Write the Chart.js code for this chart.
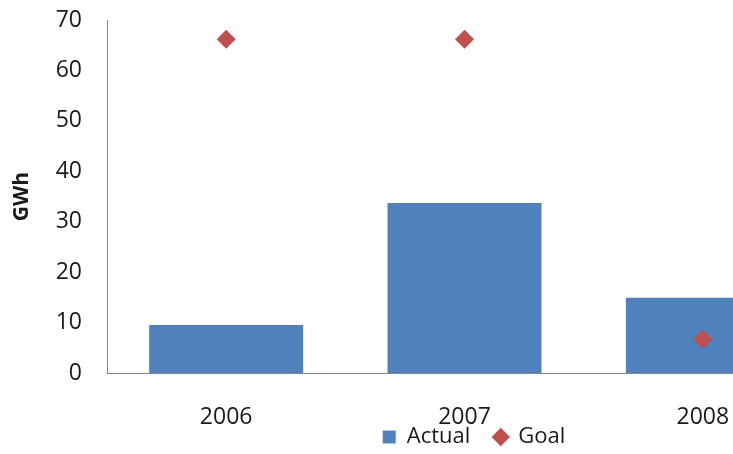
<!DOCTYPE html>
<html>
<head>
<meta charset="utf-8">
<script src="https://cdn.jsdelivr.net/npm/chart.js@4/dist/chart.umd.min.js"></script>
<style>
  html, body { margin: 0; padding: 0; background: #fff; }
  #frame { width: 733px; height: 454px; overflow: hidden; position: relative; }
  #box { width: 948px; height: 454px; position: absolute; left: 0; top: 0; }
</style>
</head>
<body>
<div id="frame"><div id="box"><canvas id="c"></canvas></div></div>
<script>
// Annual energy savings, GWh
const years = ['2006', '2007', '2008'];
const actual = [9.5, 33.7, 14.9];
const goal = [66.2, 66.2, 6.7];
const yTicks = [0, 10, 20, 30, 40, 50, 60, 70];

const textColor = '#1a1a1a';
const axisColor = '#868686';
const baseFont = "'Open Sans', 'Liberation Sans', sans-serif";

// The year labels sit below the axis band; let them draw past the band's lower edge.
const yearLabelRoom = {
  id: 'yearLabelRoom',
  afterLayout(chart) {
    chart.scales.x.bottom = chart.height;
  }
};

new Chart(document.getElementById('c'), {
  data: {
    labels: years,
    datasets: [
      {
        type: 'bar',
        label: 'Actual',
        data: actual,
        backgroundColor: '#4F81BD',
        borderWidth: 0,
        categoryPercentage: 1,
        barPercentage: 0.646,
        order: 1
      },
      {
        type: 'line',
        label: 'Goal',
        data: goal,
        showLine: false,
        pointStyle: 'rectRot',
        pointRadius: 9.5,
        pointHoverRadius: 9.5,
        pointBackgroundColor: '#C0504D',
        pointBorderColor: '#C0504D',
        pointBorderWidth: 0,
        backgroundColor: '#C0504D',
        borderColor: '#C0504D',
        order: 0
      }
    ]
  },
  plugins: [yearLabelRoom],
  options: {
    responsive: true,
    maintainAspectRatio: false,
    animation: false,
    layout: { padding: { top: 20, right: 0, left: 0, bottom: -4 } },
    plugins: {
      tooltip: { enabled: false },
      legend: {
        position: 'bottom',
        labels: {
          usePointStyle: true,
          boxWidth: 13,
          boxHeight: 13,
          padding: 24,
          color: textColor,
          font: { family: baseFont, size: 22 },
          sort: (a, b) => a.datasetIndex - b.datasetIndex,
          generateLabels: (chart) => {
            const items = Chart.defaults.plugins.legend.labels.generateLabels(chart);
            items.forEach(it => {
              it.pointStyle = it.datasetIndex === 0 ? 'rect' : 'rectRot';
              it.fillStyle = it.datasetIndex === 0 ? '#4F81BD' : '#C0504D';
              it.strokeStyle = it.fillStyle;
              it.lineWidth = 0;
            });
            return items;
          }
        }
      }
    },
    scales: {
      x: {
        grid: { display: false, drawTicks: false },
        border: { display: true, color: axisColor, width: 1 },
        ticks: { color: textColor, font: { family: baseFont, size: 23 }, padding: 31, maxRotation: 0 },
        afterFit: (s) => { s.height = 29; }
      },
      y: {
        position: 'left',
        min: 0,
        max: 70,
        afterBuildTicks: (s) => { s.ticks = yTicks.map(v => ({ value: v })); },
        grid: { display: false, drawTicks: false },
        border: { display: true, color: axisColor, width: 1 },
        ticks: { color: textColor, font: { family: baseFont, size: 23 }, padding: 25 },
        title: {
          display: true,
          text: 'GWh',
          color: textColor,
          font: { family: baseFont, size: 21, weight: 'bold' },
          padding: { top: 9, bottom: 0 }
        },
        afterFit: (s) => {
          s.width = 107;
          s.paddingTop = 0;
          s.paddingBottom = 0;
        }
      },
      // empty band on the right that holds the plot's far edge
      yRight: {
        position: 'right',
        grid: { display: false, drawTicks: false },
        border: { display: false },
        ticks: { display: false },
        afterFit: (s) => { s.width = 126; }
      }
    }
  }
});
</script>
</body>
</html>
